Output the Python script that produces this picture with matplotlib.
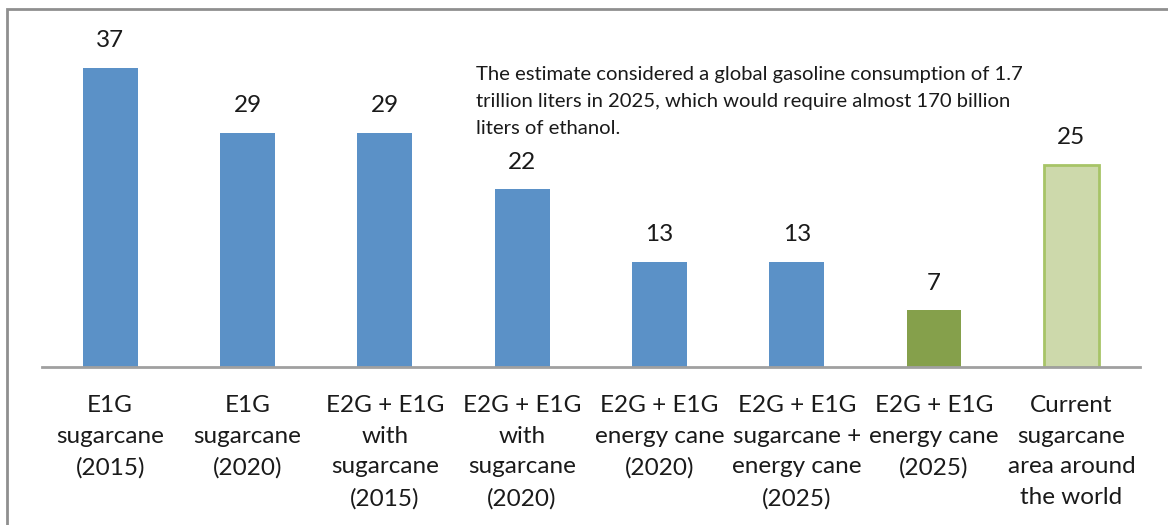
"""Land area needed for ethanol production scenarios (bar chart)."""

import matplotlib.pyplot as plt
from matplotlib.patches import Rectangle

plt.rcParams["font.family"] = ["Lato", "DejaVu Sans"]

# scenario labels and their values
categories = [
    "E1G\nsugarcane\n(2015)",
    "E1G\nsugarcane\n(2020)",
    "E2G + E1G\nwith\nsugarcane\n(2015)",
    "E2G + E1G\nwith\nsugarcane\n(2020)",
    "E2G + E1G\nenergy cane\n(2020)",
    "E2G + E1G\nsugarcane +\nenergy cane\n(2025)",
    "E2G + E1G\nenergy cane\n(2025)",
    "Current\nsugarcane\narea around\nthe world",
]
values = [37, 29, 29, 22, 13, 13, 7, 25]

note = ("The estimate considered a global gasoline consumption of 1.7\n"
        "trillion liters in 2025, which would require almost 170 billion\n"
        "liters of ethanol.")

BLUE = "#5b91c7"
DARK_GREEN = "#85a04b"
LIGHT_GREEN = "#cdd9ab"
LIGHT_GREEN_EDGE = "#a7c467"

W, H = 1168, 525


def main() -> None:
    fig = plt.figure(figsize=(W / 100, H / 100), dpi=100)

    # outer chart frame, running off the right and bottom edges
    fig.patches.append(Rectangle((7 / W, -0.1), 1.2, 1 - 9 / H + 0.1,
                                 transform=fig.transFigure, fill=False,
                                 edgecolor="#8f8f8f", linewidth=2))

    ax = fig.add_axes([41.5 / W, 1 - 367 / H, (1140 - 41.5) / W, (367 - 43.8) / H])

    x = list(range(len(values)))
    face = [BLUE] * 6 + [DARK_GREEN, LIGHT_GREEN]
    edge = [BLUE] * 6 + [DARK_GREEN, LIGHT_GREEN_EDGE]
    lw = [0] * 7 + [2]
    bars = ax.bar(x, values, width=0.4, color=face, edgecolor=edge, linewidth=lw)

    for rect, v in zip(bars, values):
        ax.annotate(str(v), (rect.get_x() + rect.get_width() / 2, v),
                    xytext=(0, 12), textcoords="offset points",
                    ha="center", va="bottom", fontsize=17.5, color="#1a1a1a")

    ax.set_xlim(-0.5, len(values) - 0.5)
    ax.set_ylim(0, 40)
    ax.set_yticks([])
    ax.set_xticks(x)
    ax.set_xticklabels(categories, fontsize=17.5, linespacing=1.58, color="#1a1a1a")
    ax.tick_params(axis="x", length=0, pad=20)

    for side in ("left", "right", "top"):
        ax.spines[side].set_visible(False)
    ax.spines["bottom"].set_color("#a0a0a0")
    ax.spines["bottom"].set_linewidth(2)

    fig.text(476 / W, 1 - 66 / H, note, ha="left", va="top",
             fontsize=14.6, linespacing=1.72, color="#1a1a1a")

    fig.savefig("out.png", dpi=100)
    plt.close(fig)


if __name__ == "__main__":
    main()
